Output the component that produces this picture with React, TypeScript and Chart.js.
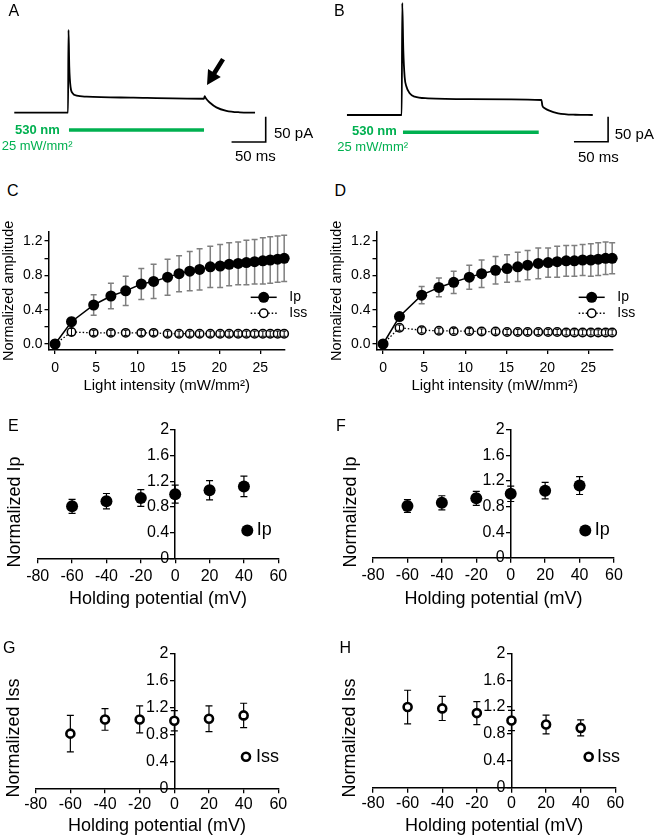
import React, { useEffect, useRef } from 'react';
import { Chart, registerables } from 'chart.js';

Chart.register(...registerables);
Chart.defaults.font.family = "'Liberation Sans', Arial, sans-serif";
Chart.defaults.color = '#000';

// ---------------- Data ----------------
// Panel A trace (time ms, current pA)
const traceA_t = [-81, -0.4, 0.3, 1.5, 3.5, 6.5, 12.5, 27.5, 97.5, 203.5, 204.5, 206.5, 212, 222, 237, 257, 280];
const traceA_pA = [0, 0, 170, 94, 52, 40, 35, 33, 30.8, 28.7, 34, 29, 21, 11, 4, 0.8, 0];
// Panel B trace
const traceB_t = [-82.5, -0.4, 0.4, 2, 4, 6.5, 11.5, 19, 39, 100, 209, 210.5, 214, 220, 234, 260, 286];
const traceB_pA = [0, 0, 230, 133, 78, 59, 44.6, 37.6, 34.2, 32.5, 30.8, 19, 14, 9.5, 3.5, 0.5, 0];
// Light pulse bars (ms)
const lightA_t = [1, 203.5];
const lightB_t = [1.5, 205];
const lightLevel = -35.5;
// Scale bars: 50 ms / 50 pA
const scaleA_t = [246, 296, 296];
const scaleA_pA = [-60, -60, -10];
const scaleB_t = [259, 309, 309];
const scaleB_pA = [-55, -55, -5];
// Arrow in A (ms, pA)
const arrowTail = [232, 110];
const arrowTip = [208, 57];

// Panels C / D : light intensity (mW/mm2)
const intensity = [0, 2, 4.7, 6.8, 8.6, 10.5, 12.0, 13.7, 15.1, 16.4, 17.6, 18.9, 20.1, 21.2, 22.3, 23.3, 24.3, 25.3, 26.2, 27.1, 27.9];
const ipC = [0, 0.26, 0.455, 0.56, 0.62, 0.7, 0.73, 0.78, 0.82, 0.85, 0.87, 0.9, 0.91, 0.93, 0.94, 0.95, 0.96, 0.97, 0.98, 0.99, 1.0];
const ipCErr = [0, 0.05, 0.12, 0.15, 0.17, 0.18, 0.2, 0.21, 0.21, 0.23, 0.24, 0.24, 0.25, 0.25, 0.25, 0.26, 0.26, 0.27, 0.27, 0.27, 0.27];
const issC = [0, 0.14, 0.13, 0.13, 0.13, 0.13, 0.13, 0.12, 0.12, 0.12, 0.12, 0.12, 0.12, 0.12, 0.12, 0.12, 0.12, 0.12, 0.12, 0.12, 0.12];
const issCErr = [0, 0.04, 0.03, 0.03, 0.03, 0.03, 0.03, 0.03, 0.03, 0.03, 0.03, 0.03, 0.03, 0.03, 0.03, 0.03, 0.03, 0.03, 0.03, 0.03, 0.03];
const ipD = [0, 0.32, 0.57, 0.66, 0.72, 0.78, 0.82, 0.86, 0.88, 0.9, 0.92, 0.94, 0.95, 0.96, 0.97, 0.97, 0.98, 0.98, 0.99, 1.0, 1.0];
const ipDErr = [0, 0.04, 0.1, 0.11, 0.13, 0.14, 0.16, 0.16, 0.16, 0.17, 0.17, 0.18, 0.17, 0.18, 0.18, 0.18, 0.18, 0.19, 0.19, 0.19, 0.18];
const issD = [0, 0.19, 0.16, 0.155, 0.15, 0.15, 0.145, 0.145, 0.14, 0.14, 0.14, 0.14, 0.14, 0.14, 0.135, 0.135, 0.135, 0.135, 0.135, 0.135, 0.135];
const issDErr = [0, 0.03, 0.03, 0.03, 0.03, 0.03, 0.03, 0.03, 0.03, 0.03, 0.03, 0.03, 0.03, 0.03, 0.03, 0.03, 0.03, 0.03, 0.03, 0.03, 0.03];
const intensityTicks = [0, 5, 10, 15, 20, 25];
const ampTicks = [0, 0.2, 0.4, 0.6, 0.8, 1.0, 1.2];
const ampTickLabels = ['0.0', '', '0.4', '', '0.8', '', '1.2'];

// Panels E-H : holding potential (mV)
const holding = [-60, -40, -20, 0, 20, 40];
const ipE = [0.81, 0.89, 0.94, 1.0, 1.06, 1.12];
const ipEErr = [0.11, 0.12, 0.13, 0.14, 0.15, 0.16];
const ipF = [0.81, 0.86, 0.93, 1.0, 1.05, 1.13];
const ipFErr = [0.1, 0.11, 0.11, 0.12, 0.13, 0.14];
const issG = [0.81, 1.02, 1.02, 1.0, 1.03, 1.08];
const issGErr = [0.27, 0.16, 0.2, 0.15, 0.19, 0.18];
const issH = [1.2, 1.18, 1.11, 1.0, 0.94, 0.89];
const issHErr = [0.25, 0.18, 0.17, 0.15, 0.14, 0.12];
const holdingTicks = [-80, -60, -40, -20, 0, 20, 40, 60];
const normTicks = [0, 0.4, 0.8, 1.2, 1.6, 2];
const normTickLabels = ['0', '0.4', '0.8', '1.2', '1.6', '2'];

const GREEN = '#00b050';
const FONT = "'Liberation Sans', Arial, sans-serif";

// ---------------- helpers ----------------
const zip = (xs: number[], ys: number[]) => xs.map((x, i) => ({ x, y: ys[i] }));

function drawErrors(chart: any, index: number, behind: boolean) {
  const ds = chart.data.datasets[index];
  if (!ds.errors || !!ds.errorBehind !== behind) return;
  const meta = chart.getDatasetMeta(index);
  const yScale = chart.scales[meta.yAxisID];
  const ctx = chart.ctx;
  ctx.save();
  ctx.strokeStyle = ds.errorColor || '#000';
  ctx.lineWidth = ds.errorWidth || 1;
  const cap = ds.errorCap || 3;
  meta.data.forEach((el: any, i: number) => {
    const e = ds.errors[i];
    if (!e) return;
    const v = ds.data[i].y;
    const x = el.x;
    const y1 = yScale.getPixelForValue(v + e);
    const y2 = yScale.getPixelForValue(v - e);
    ctx.beginPath();
    ctx.moveTo(x, y1); ctx.lineTo(x, y2);
    ctx.moveTo(x - cap, y1); ctx.lineTo(x + cap, y1);
    ctx.moveTo(x - cap, y2); ctx.lineTo(x + cap, y2);
    ctx.stroke();
  });
  ctx.restore();
}

const errorBarPlugin = {
  id: 'errorBars',
  beforeDatasetDraw(chart: any, args: any) { drawErrors(chart, args.index, true); },
  afterDatasetDraw(chart: any, args: any) { drawErrors(chart, args.index, false); },
};

// Tick labels for a y axis that crosses at x = 0: drawn to the left of the axis line
const crossYLabelsPlugin = {
  id: 'crossYLabels',
  beforeDatasetsDraw(chart: any) {
    const xs = chart.scales.x, ys = chart.scales.y;
    const ctx = chart.ctx;
    const x0 = xs.getPixelForValue(0) - 4 - 2;
    ctx.save();
    ctx.fillStyle = '#000';
    ctx.font = `16px ${FONT}`;
    ctx.textAlign = 'right';
    ctx.textBaseline = 'middle';
    normTicks.forEach((v, i) => ctx.fillText(normTickLabels[i], x0, ys.getPixelForValue(v)));
    ctx.restore();
  },
};

type LegendItem = { label: string; mx: number; y: number; tx: number; r: number; open?: boolean; bw?: number; size: number; x1?: number; x2?: number; dash?: number[] };

const legendPlugin = (items: LegendItem[]) => ({
  id: 'miniLegend',
  afterDraw(chart: any) {
    const ctx = chart.ctx;
    items.forEach((it) => {
      ctx.save();
      if (it.x1 !== undefined && it.x2 !== undefined) {
        ctx.strokeStyle = '#000';
        ctx.lineWidth = 1.5;
        ctx.setLineDash(it.dash || []);
        ctx.beginPath();
        ctx.moveTo(it.x1, it.y);
        ctx.lineTo(it.x2, it.y);
        ctx.stroke();
        ctx.setLineDash([]);
      }
      ctx.beginPath();
      ctx.arc(it.mx, it.y, it.r, 0, Math.PI * 2);
      if (it.open) {
        ctx.fillStyle = '#fff';
        ctx.fill();
        ctx.lineWidth = it.bw || 1.5;
        ctx.strokeStyle = '#000';
        ctx.stroke();
      } else {
        ctx.fillStyle = '#000';
        ctx.fill();
      }
      ctx.fillStyle = '#000';
      ctx.font = `${it.size}px ${FONT}`;
      ctx.textBaseline = 'middle';
      ctx.textAlign = 'left';
      ctx.fillText(it.label, it.tx, it.y);
      ctx.restore();
    });
  },
});

const arrowPlugin = (tail: number[], tip: number[]) => ({
  id: 'arrow',
  afterDatasetsDraw(chart: any) {
    const xs = chart.scales.x, ys = chart.scales.y;
    const x1 = xs.getPixelForValue(tail[0]), y1 = ys.getPixelForValue(tail[1]);
    const x2 = xs.getPixelForValue(tip[0]), y2 = ys.getPixelForValue(tip[1]);
    const dx = x2 - x1, dy = y2 - y1;
    const len = Math.hypot(dx, dy);
    const ux = dx / len, uy = dy / len;
    const px = -uy, py = ux;
    const headL = 14, headW = 7.5, shaftW = 2.3;
    const bx = x2 - ux * headL, by = y2 - uy * headL;
    const ctx = chart.ctx;
    ctx.save();
    ctx.fillStyle = '#000';
    ctx.beginPath();
    ctx.moveTo(x1 + px * shaftW, y1 + py * shaftW);
    ctx.lineTo(bx + px * shaftW, by + py * shaftW);
    ctx.lineTo(bx + px * headW, by + py * headW);
    ctx.lineTo(x2, y2);
    ctx.lineTo(bx - px * headW, by - py * headW);
    ctx.lineTo(bx - px * shaftW, by - py * shaftW);
    ctx.lineTo(x1 - px * shaftW, y1 - py * shaftW);
    ctx.closePath();
    ctx.fill();
    ctx.restore();
  },
});

const baseOptions = {
  animation: false,
  responsive: false,
  maintainAspectRatio: false,
  events: [],
  devicePixelRatio: 1,
};

function traceConfig(t: number[], pA: number[], lightT: number[], sbT: number[], sbPA: number[], xr: number[], yr: number[], withArrow: boolean): any {
  return {
    type: 'line',
    data: {
      datasets: [
        { data: zip(t, pA), borderColor: '#000', borderWidth: 1.8, pointRadius: 0, cubicInterpolationMode: 'monotone', clip: false },
        { data: zip(lightT, lightT.map(() => lightLevel)), borderColor: GREEN, borderWidth: 3.5, pointRadius: 0, clip: false },
        { data: zip(sbT, sbPA), borderColor: '#000', borderWidth: 1.6, pointRadius: 0, borderJoinStyle: 'miter', borderCapStyle: 'square', clip: false },
      ],
    },
    options: {
      ...baseOptions,
      layout: { padding: 0 },
      plugins: { legend: { display: false }, tooltip: { enabled: false } },
      scales: {
        x: { type: 'linear', display: false, min: xr[0], max: xr[1] },
        y: { type: 'linear', display: false, min: yr[0], max: yr[1] },
      },
    },
    plugins: withArrow ? [arrowPlugin(arrowTail, arrowTip)] : [],
  };
}

function doseConfig(ip: number[], ipErr: number[], iss: number[], issErr: number[]): any {
  return {
    type: 'line',
    data: {
      datasets: [
        {
          label: 'Ip', data: zip(intensity, ip), errors: ipErr, errorBehind: true, errorColor: '#7f7f7f', errorWidth: 1.5, errorCap: 3,
          borderColor: '#000', backgroundColor: '#000', borderWidth: 1.5, pointRadius: 5.5, pointBackgroundColor: '#000', pointBorderColor: '#000', pointBorderWidth: 0, clip: false,
        },
        {
          label: 'Iss', data: zip(intensity, iss), errors: issErr, errorBehind: false, errorColor: '#000', errorWidth: 1, errorCap: 2,
          borderColor: '#000', borderWidth: 1.3, borderDash: [1.5, 2], pointRadius: 4.2, pointBorderWidth: 1.5, pointBackgroundColor: '#fff', pointBorderColor: '#000', clip: false,
        },
      ],
    },
    options: {
      ...baseOptions,
      layout: { padding: { left: 0, top: 31.7, right: 43, bottom: 0 } },
      plugins: { legend: { display: false }, tooltip: { enabled: false } },
      scales: {
        x: {
          type: 'linear', min: -0.8, max: 28,
          afterBuildTicks: (s: any) => { s.ticks = intensityTicks.map((v) => ({ value: v })); },
          afterFit: (s: any) => { s.height = 50; },
          grid: { display: true, drawOnChartArea: false, drawTicks: true, tickLength: 4, color: '#000', lineWidth: 1.3 },
          border: { display: true, color: '#000', width: 1.5 },
          ticks: { padding: 5.4, font: { size: 14 }, color: '#000', autoSkip: false, maxRotation: 0 },
          title: { display: true, text: 'Light intensity (mW/mm²)', font: { size: 15 }, color: '#000', padding: { top: 0, bottom: 5 } },
        },
        y: {
          type: 'linear', min: -0.07, max: 1.31,
          afterBuildTicks: (s: any) => { s.ticks = ampTicks.map((v) => ({ value: v })); },
          afterFit: (s: any) => { s.width = 48.5; },
          grid: { display: true, drawOnChartArea: false, drawTicks: true, tickLength: 4, color: '#000', lineWidth: 1.3 },
          border: { display: true, color: '#000', width: 1.5 },
          ticks: { padding: 2, font: { size: 14 }, color: '#000', autoSkip: false, callback: (_v: any, i: number) => ampTickLabels[i] },
          title: { display: true, text: 'Normalized amplitude', font: { size: 14.5 }, color: '#000', padding: { top: 0, bottom: 0 } },
        },
      },
    },
    plugins: [
      errorBarPlugin,
      legendPlugin([
        { label: 'Ip', mx: 263.7, y: 97.3, tx: 289.3, r: 5.5, size: 14, x1: 250.7, x2: 276.7 },
        { label: 'Iss', mx: 263.7, y: 113.3, tx: 289.3, r: 4.2, open: true, bw: 1.5, size: 14, x1: 250.7, x2: 276.7, dash: [1.5, 2] },
      ]),
    ],
  };
}

type IvDims = { left: number; right: number; top: number; xh: number; tickPad: number; titlePad: number; legend: LegendItem };

function ivConfig(vals: number[], errs: number[], filled: boolean, title: string, d: IvDims): any {
  return {
    type: 'line',
    data: {
      datasets: [
        {
          label: title, data: zip(holding, vals), showLine: false, errors: errs, errorBehind: true, errorColor: '#000', errorWidth: 1.2, errorCap: 3.5,
          pointRadius: filled ? 6 : 4, pointBorderWidth: filled ? 0 : 2.6, pointBackgroundColor: filled ? '#000' : '#fff', pointBorderColor: '#000', clip: false,
        },
      ],
    },
    options: {
      ...baseOptions,
      layout: { padding: { left: d.left, right: d.right, top: d.top, bottom: 0 } },
      plugins: { legend: { display: false }, tooltip: { enabled: false } },
      scales: {
        x: {
          type: 'linear', min: -80, max: 60,
          afterBuildTicks: (s: any) => { s.ticks = holdingTicks.map((v) => ({ value: v })); },
          afterFit: (s: any) => { s.height = d.xh; },
          grid: { display: true, drawOnChartArea: false, drawTicks: true, tickLength: 5, color: '#000', lineWidth: 1.3 },
          border: { display: true, color: '#000', width: 1.5 },
          ticks: { padding: d.tickPad, font: { size: 16 }, color: '#000', autoSkip: false, maxRotation: 0 },
          title: { display: true, text: 'Holding potential (mV)', font: { size: 18 }, color: '#000', padding: { top: 0, bottom: d.titlePad } },
        },
        y: {
          type: 'linear', min: 0, max: 2, position: { x: 0 },
          afterBuildTicks: (s: any) => { s.ticks = normTicks.map((v) => ({ value: v })); },
          grid: { display: true, drawOnChartArea: false, drawTicks: true, tickLength: 4, color: '#000', lineWidth: 1.3 },
          border: { display: true, color: '#000', width: 1.5 },
          ticks: { display: false, autoSkip: false },
        },
      },
    },
    plugins: [crossYLabelsPlugin, errorBarPlugin, legendPlugin([d.legend])],
  };
}

function ChartBox({ left, top, width, height, make }: { left: number; top: number; width: number; height: number; make: () => any }) {
  const ref = useRef<HTMLCanvasElement>(null);
  useEffect(() => {
    const chart = new Chart(ref.current as HTMLCanvasElement, make());
    return () => chart.destroy();
  }, []);
  return <canvas ref={ref} width={width} height={height} style={{ position: 'absolute', left, top, width, height, display: 'block' }} />;
}

function Txt({ x, b, size, bold, color, children }: { x: number; b: number; size: number; bold?: boolean; color?: string; children: any }) {
  return (
    <div style={{ position: 'absolute', left: x, top: b - 0.8465 * size, fontSize: size, lineHeight: `${size}px`, fontWeight: bold ? 'bold' : 'normal', color: color || '#000', whiteSpace: 'nowrap' }}>
      {children}
    </div>
  );
}

function VTxt({ cx, cy, size, children }: { cx: number; cy: number; size: number; children: any }) {
  return (
    <div style={{ position: 'absolute', left: cx, top: cy, fontSize: size, lineHeight: `${size}px`, whiteSpace: 'nowrap', transform: 'translate(-50%, -50%) rotate(-90deg)' }}>
      {children}
    </div>
  );
}

export default function App() {
  return (
    <div style={{ position: 'absolute', left: 0, top: 0, width: 656, height: 840, background: '#fff', fontFamily: FONT, color: '#000', overflow: 'hidden' }}>
      <ChartBox left={0} top={0} width={328} height={175}
        make={() => traceConfig(traceA_t, traceA_pA, lightA_t, scaleA_t, scaleA_pA, [-102.4, 389.4], [-127.9, 231.4], true)} />
      <ChartBox left={328} top={0} width={328} height={175}
        make={() => traceConfig(traceB_t, traceB_pA, lightB_t, scaleB_t, scaleB_pA, [-110.9, 380.8], [-123.2, 236.1], false)} />
      <ChartBox left={0} top={200} width={328} height={200} make={() => doseConfig(ipC, ipCErr, issC, issCErr)} />
      <ChartBox left={328} top={200} width={328} height={200} make={() => doseConfig(ipD, ipDErr, issD, issDErr)} />
      <ChartBox left={0} top={400} width={328} height={220}
        make={() => ivConfig(ipE, ipEErr, true, 'Ip', { left: 37.7, right: 49.7, top: 30, xh: 61.7, tickPad: 3.2, titlePad: 10.5, legend: { label: 'Ip', mx: 247.3, y: 130.5, tx: 256.7, r: 6, size: 18 } })} />
      <ChartBox left={328} top={400} width={328} height={220}
        make={() => ivConfig(ipF, ipFErr, true, 'Ip', { left: 45, right: 42, top: 30, xh: 62.3, tickPad: 3.2, titlePad: 10.5, legend: { label: 'Ip', mx: 257.3, y: 130.5, tx: 266.7, r: 6, size: 18 } })} />
      <ChartBox left={0} top={620} width={328} height={220}
        make={() => ivConfig(issG, issGErr, false, 'Iss', { left: 35.7, right: 49.7, top: 33.3, xh: 51.7, tickPad: 1.5, titlePad: 2.8, legend: { label: 'Iss', mx: 246, y: 136.7, tx: 256, r: 4, open: true, bw: 2.6, size: 18 } })} />
      <ChartBox left={328} top={620} width={328} height={220}
        make={() => ivConfig(issH, issHErr, false, 'Iss', { left: 45, right: 40.7, top: 33.3, xh: 52.3, tickPad: 1.5, titlePad: 2.8, legend: { label: 'Iss', mx: 260.7, y: 136.7, tx: 269, r: 4, open: true, bw: 2.6, size: 18 } })} />

      {/* Panel letters */}
      <Txt x={8.5} b={17} size={16}>A</Txt>
      <Txt x={334} b={17} size={16}>B</Txt>
      <Txt x={7} b={197} size={16}>C</Txt>
      <Txt x={334.5} b={197} size={16}>D</Txt>
      <Txt x={8} b={432} size={16}>E</Txt>
      <Txt x={336} b={432} size={16}>F</Txt>
      <Txt x={3} b={654} size={16}>G</Txt>
      <Txt x={339.5} b={654} size={16}>H</Txt>

      {/* Panel A annotations */}
      <Txt x={15} b={133.7} size={13} bold color={GREEN}>530 nm</Txt>
      <Txt x={1.7} b={150} size={13} color={GREEN}>25 mW/mm²</Txt>
      <Txt x={274} b={138} size={15}>50 pA</Txt>
      <Txt x={235} b={160.5} size={15}>50 ms</Txt>

      {/* Panel B annotations */}
      <Txt x={352} b={135} size={13} bold color={GREEN}>530 nm</Txt>
      <Txt x={337.3} b={151} size={13} color={GREEN}>25 mW/mm²</Txt>
      <Txt x={614.7} b={138.7} size={15}>50 pA</Txt>
      <Txt x={578} b={161.7} size={15}>50 ms</Txt>

      {/* Y titles for E-H */}
      <VTxt cx={14} cy={511.7} size={18}>Normalized Ip</VTxt>
      <VTxt cx={349.7} cy={511.7} size={18}>Normalized Ip</VTxt>
      <VTxt cx={12.8} cy={737.5} size={18}>Normalized Iss</VTxt>
      <VTxt cx={349} cy={737.5} size={18}>Normalized Iss</VTxt>
    </div>
  );
}
